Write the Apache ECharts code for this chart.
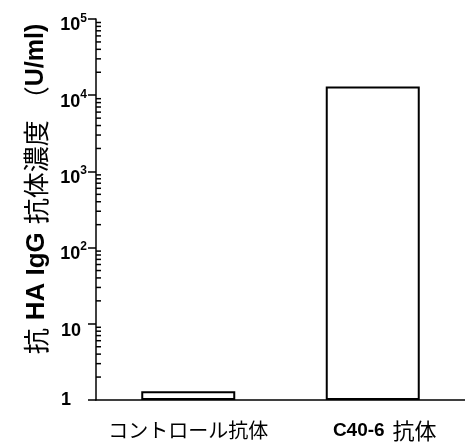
<!DOCTYPE html>
<html>
<head>
<meta charset="utf-8">
<script src="https://cdn.jsdelivr.net/npm/echarts@6/dist/echarts.min.js"></script>
<style>html,body{margin:0;padding:0;background:#fff;}#c{width:465px;height:447px;}</style>
</head>
<body>
<div id="c"></div>
<script>
const categories = ['コントロール抗体', 'C40-6 抗体'];
const values = [1.3, 13000];
const yTickValues = [1, 10, 100, 1000, 10000, 100000];
const yAxisName = '抗 HA IgG 抗体濃度 （U/ml)';

// minor tick positions 2..9 in each decade
const minorTicks = [];
for (let k = 0; k < 5; k++) {
  for (let m = 2; m <= 9; m++) minorTicks.push([0, m * Math.pow(10, k)]);
}

const chart = echarts.init(document.getElementById('c'), null, {renderer: 'canvas'});
const latin = 'Arial, "Liberation Sans", "Noto Sans CJK JP", sans-serif';
const cjk = '"Noto Sans CJK JP", Arial, sans-serif';

chart.setOption({
  animation: false,
  backgroundColor: '#fff',
  grid: {left: 96, right: -7, top: 19, bottom: 47, containLabel: false},
  xAxis: {
    type: 'category',
    data: categories,
    axisLine: {lineStyle: {color: '#000', width: 1.5}},
    axisTick: {show: false},
    axisLabel: {
      margin: 20,
      color: '#000',
      formatter: function (v) {
        if (v === 'C40-6 抗体') return '{b|C40-6}{m|抗体}';
        return '{n|' + v + '}';
      },
      rich: {
        b: {fontFamily: latin, fontWeight: 'bold', fontSize: 19, color: '#000', padding: [0, 8, 0, 24]},
        n: {fontFamily: cjk, fontSize: 20, color: '#000'},
        m: {fontFamily: cjk, fontSize: 22, color: '#000'}
      }
    }
  },
  yAxis: {
    type: 'log',
    logBase: 10,
    min: 1,
    max: 100000,
    name: '{f|抗}{l|HA IgG}{c|抗体濃度}{p|（}{e|U/ml)}',
    nameLocation: 'middle',
    nameGap: 39,
    nameTextStyle: {
      color: '#000',
      rich: {
        f: {fontFamily: cjk, fontSize: 26, color: '#000', padding: [0, 8, 0, 41]},
        c: {fontFamily: cjk, fontSize: 26, color: '#000', padding: [0, 8, 0, 0]},
        p: {fontFamily: cjk, fontSize: 26, color: '#000'},
        l: {fontFamily: latin, fontWeight: 'bold', fontSize: 26, color: '#000', padding: [0, 8, 0, 0]},
        e: {fontFamily: latin, fontWeight: 'bold', fontSize: 25, color: '#000'}
      }
    },
    axisLine: {show: true, lineStyle: {color: '#000', width: 1.5}},
    axisTick: {show: true, inside: false, length: 8, lineStyle: {color: '#000', width: 1.5}},
    splitLine: {show: false},
    minorTick: {show: false},
    axisLabel: {
      margin: 9,
      color: '#000',
      formatter: function (v) {
        const e = Math.round(Math.log10(v));
        if (e === 0) return '{o|1}';
        if (e === 1) return '{t|10}';
        return '{b|10}{s|' + e + '}';
      },
      rich: {
        b: {fontFamily: latin, fontWeight: 'bold', fontSize: 18, color: '#000', padding: [13, 0, 0, 0]},
        t: {fontFamily: latin, fontWeight: 'bold', fontSize: 18, color: '#000', padding: [14, 6, 0, 0]},
        o: {fontFamily: latin, fontWeight: 'bold', fontSize: 18, color: '#000', padding: [0, 16, 0, 0]},
        s: {fontFamily: latin, fontWeight: 'bold', fontSize: 12, color: '#000', verticalAlign: 'bottom', padding: [0, 0, 10, 0]}
      }
    }
  },
  series: [
    {
      type: 'bar',
      data: values,
      barWidth: 94,
      itemStyle: {color: '#fff', borderColor: '#000', borderWidth: 2}
    },
    {
      type: 'custom',
      data: minorTicks,
      encode: {x: 0, y: 1},
      silent: true,
      clip: false,
      renderItem: function (params, api) {
        const cs = params.coordSys;
        const p = api.coord([0, api.value(1)]);
        return {
          type: 'line',
          shape: {x1: cs.x, y1: p[1], x2: cs.x + 5, y2: p[1]},
          style: {stroke: '#000', lineWidth: 1.5}
        };
      }
    }
  ]
});
</script>
</body>
</html>
